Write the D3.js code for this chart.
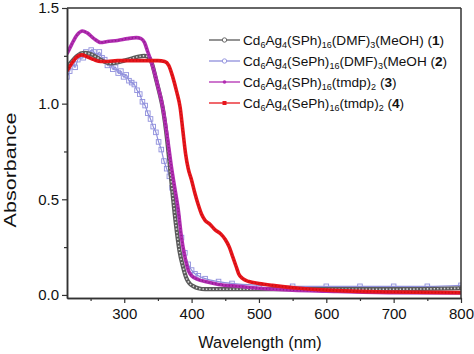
<!DOCTYPE html>
<html>
<head>
<meta charset="utf-8">
<script src="https://cdn.jsdelivr.net/npm/d3@7"></script>
<style>
  body { margin: 0; background: #fff; }
  text { font-family: Arial, "Liberation Sans", sans-serif; fill: #111; }
</style>
</head>
<body>
<svg id="drawing_region"></svg>
<script>
// wavelength (nm) / absorbance
const wl1 = [215,222,230,240,250,260,270,280,290,300,310,320,330,337,342,347,352,357,362,367,372,377,382,387,392,397,403,410,420,450,500,600,700,800]
const ab1 = [1.19,1.22,1.25,1.265,1.26,1.24,1.22,1.21,1.215,1.225,1.235,1.245,1.25,1.24,1.2,1.13,1.06,0.98,0.86,0.7,0.52,0.36,0.23,0.15,0.09,0.06,0.045,0.035,0.03,0.03,0.03,0.03,0.03,0.035]

const wl2 = [215,219,223,227,231,235,239,243,247,251,255,259,263,267,271,275,279,283,287,291,295,299,303,307,311,315,319,323,327,331,335,339,343,347,351,355,359,363,367,371,375,380,385,390,395,400,405,410,420,440,460,500,550,600,650,700,750,800]
const ab2 = [1.14,1.17,1.21,1.19,1.23,1.25,1.24,1.27,1.26,1.28,1.27,1.25,1.27,1.24,1.23,1.2,1.21,1.18,1.19,1.16,1.17,1.14,1.15,1.12,1.11,1.1,1.07,1.05,1.01,0.99,0.95,0.92,0.88,0.85,0.8,0.76,0.7,0.66,0.62,0.56,0.5,0.4,0.3,0.22,0.16,0.13,0.11,0.1,0.085,0.07,0.06,0.05,0.045,0.045,0.045,0.045,0.045,0.05]

const wl3 = [215,222,230,238,245,255,265,275,290,305,318,325,330,335,340,345,350,355,360,365,370,375,380,385,390,395,400,410,420,440,470,500,550,600,700,800]
const ab3 = [1.26,1.31,1.36,1.38,1.37,1.34,1.32,1.325,1.33,1.34,1.345,1.34,1.32,1.27,1.22,1.16,1.09,1.02,0.92,0.8,0.67,0.56,0.45,0.3,0.2,0.13,0.1,0.08,0.07,0.055,0.045,0.035,0.025,0.02,0.012,0.01]

const wl4 = [215,222,230,237,245,255,265,275,290,305,320,335,350,360,366,372,378,383,387,391,395,400,405,410,415,420,427,435,443,450,456,461,466,470,476,485,500,520,560,600,700,800]
const ab4 = [1.17,1.21,1.245,1.255,1.245,1.23,1.22,1.22,1.225,1.225,1.225,1.225,1.225,1.22,1.2,1.14,1.06,0.98,0.86,0.74,0.66,0.6,0.53,0.47,0.42,0.39,0.37,0.34,0.32,0.29,0.25,0.2,0.15,0.11,0.085,0.07,0.06,0.05,0.035,0.025,0.015,0.012]

const labels = [
  'Cd_6Ag_4(SPh)_16(DMF)_3(MeOH) (1)',
  'Cd_6Ag_4(SePh)_16(DMF)_3(MeOH (2)',
  'Cd_6Ag_4(SPh)_16(tmdp)_2 (3)',
  'Cd_6Ag_4(SePh)_16(tmdp)_2 (4)'
]
const colors = ['#5a5a5a', '#8f8fdc', '#b22db2', '#e8161c']
const xTicks = [300, 400, 500, 600, 700, 800]
const xMinor = [250, 350, 450, 550, 650, 750]
const yTicks = [0.0, 0.5, 1.0, 1.5]
const yMinor = [0.25, 0.75, 1.25]

const series = [
  {wl: wl1, ab: ab1},
  {wl: wl2, ab: ab2},
  {wl: wl3, ab: ab3},
  {wl: wl4, ab: ab4}
].map((s, i) => ({id: i, color: colors[i], label: labels[i], pts: s.wl.map((w, j) => ({w: w, a: s.ab[j]}))}))

const W = 474, H = 354
const m = {left: 67, right: 461, top: 8, bottom: 298}

const svg = d3.select('#drawing_region').attr('width', W).attr('height', H)

const xscale = d3.scaleLinear().domain([215, 800]).range([m.left, m.right])
const yscale = d3.scaleLinear().domain([-0.016, 1.5]).range([m.bottom, m.top])

svg.append('clipPath').attr('id', 'clip')
  .append('rect').attr('x', m.left).attr('y', m.top - 2).attr('width', m.right - m.left).attr('height', m.bottom - m.top + 2)

const line = d3.line().x(d => xscale(d.w)).y(d => yscale(d.a)).curve(d3.curveMonotoneX)

const plot = svg.append('g').attr('clip-path', 'url(#clip)')

// draw order: 2 (blue), 1 (gray), 3 (magenta), 4 (red)
const order = [1, 0, 2, 3]
order.forEach(i => {
  const s = series[i]
  if (i === 0) {
    plot.append('path').attr('d', line(s.pts)).attr('fill', 'none')
      .attr('stroke', s.color).attr('stroke-width', 4.2)
    plot.append('path').attr('d', line(s.pts)).attr('fill', 'none')
      .attr('stroke', '#d8d8d8').attr('stroke-width', 1.6).attr('stroke-dasharray', '1.4 2')
  } else if (i === 1) {
    plot.append('path').attr('d', line(s.pts)).attr('fill', 'none')
      .attr('stroke', s.color).attr('stroke-width', 1.2)
    plot.selectAll('.sq').data(s.pts).enter().append('rect')
      .attr('x', d => xscale(d.w) - 2.3).attr('y', d => yscale(d.a) - 2.3)
      .attr('width', 4.6).attr('height', 4.6)
      .attr('fill', 'none').attr('stroke', s.color).attr('stroke-width', 0.9)
  } else {
    plot.append('path').attr('d', line(s.pts)).attr('fill', 'none')
      .attr('stroke', s.color).attr('stroke-width', 3.6)
    plot.append('path').attr('d', line(s.pts)).attr('fill', 'none')
      .attr('stroke', i === 2 ? '#8e1f8e' : '#c80f14').attr('stroke-width', 1.6).attr('stroke-dasharray', '1.2 2.2')
  }
})

// frame
svg.append('line').attr('x1', m.left).attr('x2', m.right).attr('y1', m.top).attr('y2', m.top).attr('stroke', '#333').attr('stroke-width', 1.5)
svg.append('line').attr('x1', m.right).attr('x2', m.right).attr('y1', m.top).attr('y2', m.bottom).attr('stroke', '#333').attr('stroke-width', 1.5)

// axes
const xaxis = d3.axisBottom(xscale).tickValues(xTicks).tickSize(5).tickSizeOuter(0).tickPadding(5).tickFormat(d3.format('d'))
const xminor = d3.axisBottom(xscale).tickValues(xMinor).tickSize(3).tickSizeOuter(0).tickFormat('')
const yaxis = d3.axisLeft(yscale).tickValues(yTicks).tickSize(5).tickSizeOuter(0).tickPadding(3).tickFormat(d3.format('.1f'))
const yminor = d3.axisLeft(yscale).tickValues(yMinor).tickSize(3).tickSizeOuter(0).tickFormat('')

svg.append('g').attr('transform', `translate(0,${m.bottom})`).call(xaxis)
svg.append('g').attr('transform', `translate(0,${m.bottom})`).call(xminor)
svg.append('g').attr('transform', `translate(${m.left},0)`).call(yaxis)
svg.append('g').attr('transform', `translate(${m.left},0)`).call(yminor)

svg.selectAll('.domain').attr('stroke', '#333').attr('stroke-width', 1.5)
svg.selectAll('.tick line').attr('stroke', '#333').attr('stroke-width', 1.2)
svg.selectAll('.tick text').attr('font-size', 15).attr('font-family', 'Arial, "Liberation Sans", sans-serif').attr('fill', '#111')

svg.append('text').attr('x', 260).attr('y', 348).attr('text-anchor', 'middle')
  .attr('font-size', 16.3).text('Wavelength (nm)')
svg.append('text').attr('transform', 'translate(15.5,170) rotate(-90) scale(1.32,1)').attr('text-anchor', 'middle')
  .attr('font-size', 16.3).text('Absorbance')

// legend
const lg = svg.append('g')
series.forEach((s, i) => {
  const y = 40 + i * 21
  const g = lg.append('g')
  g.append('line').attr('x1', 209).attr('x2', 240).attr('y1', y).attr('y2', y).attr('stroke', s.color).attr('stroke-width', 1.3)
  if (i < 2) {
    g.append('circle').attr('cx', 224.5).attr('cy', y).attr('r', 2.2).attr('fill', '#fff').attr('stroke', s.color).attr('stroke-width', 0.9)
  } else if (i === 2) {
    g.append('circle').attr('cx', 224.5).attr('cy', y).attr('r', 1.8).attr('fill', s.color)
  } else {
    g.append('rect').attr('x', 222.5).attr('y', y - 2).attr('width', 4).attr('height', 4).attr('fill', s.color)
  }
  const t = g.append('text').attr('x', 243).attr('y', y + 4.5).attr('font-size', 13.6)
  const parts = s.label.split(/(_\d+|\(\d\)$)/).filter(p => p !== '')
  let sub = false
  parts.forEach(p => {
    if (p[0] === '_') {
      t.append('tspan').attr('dy', 3.5).attr('font-size', 9).text(p.slice(1))
      sub = true
    } else if (/^\(\d\)$/.test(p)) {
      t.append('tspan').attr('dy', sub ? -3.5 : 0).text('(')
      sub = false
      t.append('tspan').attr('font-weight', 'bold').text(p[1])
      t.append('tspan').text(')')
    } else {
      t.append('tspan').attr('dy', sub ? -3.5 : 0).text(p)
      sub = false
    }
  })
})
</script>
</body>
</html>
